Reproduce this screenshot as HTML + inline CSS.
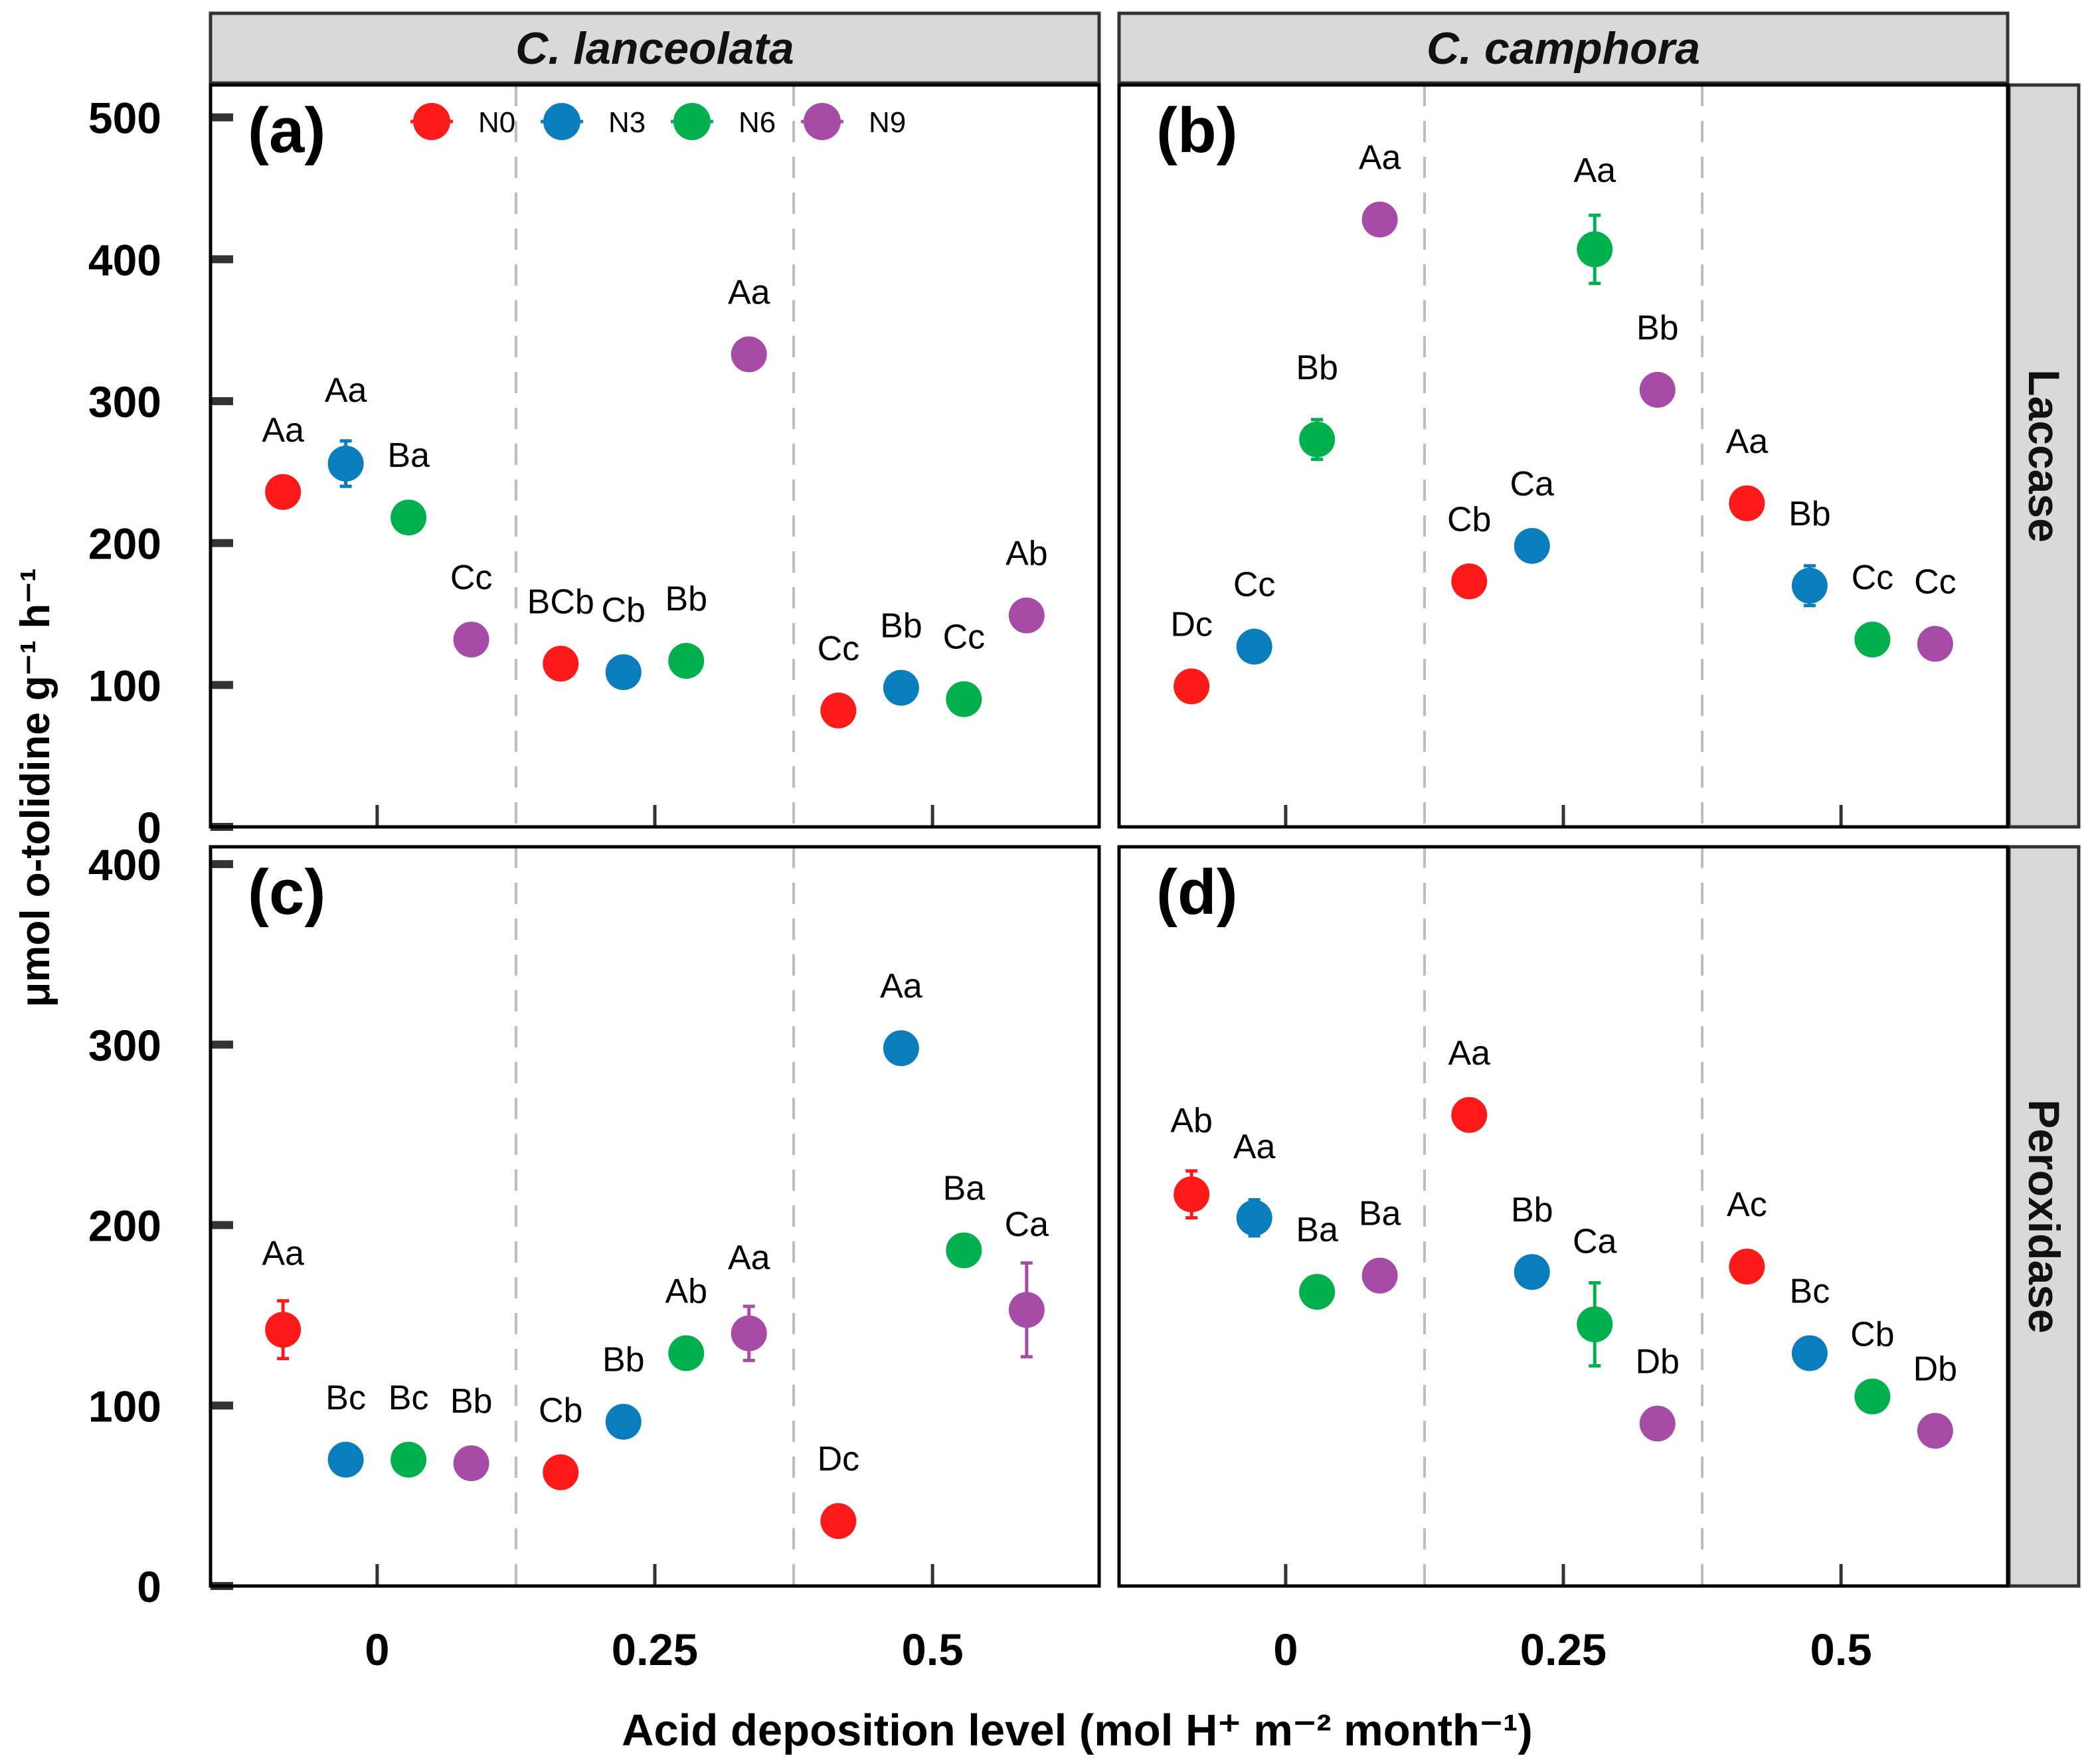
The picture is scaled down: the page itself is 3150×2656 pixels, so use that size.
<!DOCTYPE html>
<html><head><meta charset="utf-8"><style>
html,body{margin:0;padding:0;background:#fff;}
svg{display:block;font-family:"Liberation Sans",Arial,sans-serif;}
</style></head><body>
<svg id="chart" width="3150" height="2656" viewBox="0 0 3150 2656" xmlns="http://www.w3.org/2000/svg"></svg>
<script>
const groups = [0, 0.25, 0.5];
const series = ["N0","N3","N6","N9"];
const colors = ["#ff1a1a","#0a7dbd","#00b04c","#a64ca6"];
// panel a: C. lanceolata Laccase
const aVals = [[236,256,218,132],[115,109,117,333],[82,98,90,149]];
const aErr  = [[0,16,0,0],[0,0,0,0],[0,0,0,0]];
const aLab  = [["Aa","Aa","Ba","Cc"],["BCb","Cb","Bb","Aa"],["Cc","Bb","Cc","Ab"]];
// panel b: C. camphora Laccase
const bVals = [[99,127,273,428],[173,198,407,308],[228,170,132,129]];
const bErr  = [[0,0,14,0],[0,0,24,0],[0,14,0,0]];
const bLab  = [["Dc","Cc","Bb","Aa"],["Cb","Ca","Aa","Bb"],["Aa","Bb","Cc","Cc"]];
// panel c: C. lanceolata Peroxidase
const cVals = [[142,70,70,68],[63,91,129,140],[36,298,186,153]];
const cErr  = [[16,0,0,0],[0,0,0,15],[0,0,0,26]];
const cLab  = [["Aa","Bc","Bc","Bb"],["Cb","Bb","Ab","Aa"],["Dc","Aa","Ba","Ca"]];
// panel d: C. camphora Peroxidase
const dVals = [[217,204,163,172],[261,174,145,90],[177,129,105,86]];
const dErr  = [[13,10,0,0],[0,0,23,0],[0,0,0,0]];
const dLab  = [["Ab","Aa","Ba","Ba"],["Aa","Bb","Ca","Db"],["Ac","Bc","Cb","Db"]];
const topTicks = [0,100,200,300,400,500];
const botTicks = [0,100,200,300,400];
const xTickLabels = ["0","0.25","0.5"];

const svg = document.getElementById('chart');
const NS = "http://www.w3.org/2000/svg";
function mk(tag, attrs, parent, text){
  const e = document.createElementNS(NS, tag);
  for (const k in attrs) e.setAttribute(k, attrs[k]);
  if (text !== undefined) e.textContent = text;
  (parent || svg).appendChild(e);
  return e;
}
const X0 = [317, 1685], PW = 1338;
const xmin = -0.15, xmax = 0.65;
function xs(col, v){ return X0[col] + (v - xmin) / (xmax - xmin) * PW; }
const rows = [{top:128, bot:1245, max:522.8}, {top:1275, bot:2388, max:409.6}];
function ys(row, v){ const r = rows[row]; return r.bot - v / r.max * (r.bot - r.top); }
const offs = [-1.5,-0.5,0.5,1.5], spacing = 0.0565;

const panels = [
  {row:0,col:0,vals:aVals,err:aErr,lab:aLab,tag:"(a)",name:"panel-a"},
  {row:0,col:1,vals:bVals,err:bErr,lab:bLab,tag:"(b)",name:"panel-b"},
  {row:1,col:0,vals:cVals,err:cErr,lab:cLab,tag:"(c)",name:"panel-c"},
  {row:1,col:1,vals:dVals,err:dErr,lab:dLab,tag:"(d)",name:"panel-d"}
];

["C. lanceolata","C. camphora"].forEach((t,i)=>{
  const g = mk('g',{});
  
  
  mk('rect',{x:X0[i],y:20,width:PW,height:105,fill:'#d9d9d9',stroke:'#333','stroke-width':5},g);
  mk('text',{x:X0[i]+PW/2,y:96,'text-anchor':'middle','font-size':68,'font-weight':'bold','font-style':'italic',fill:'#111'},g,t);
});
["Laccase","Peroxidase"].forEach((t,i)=>{
  const r = rows[i];
  const g = mk('g',{});
  
  
  mk('rect',{x:3025,y:r.top,width:105,height:r.bot-r.top,fill:'#d9d9d9',stroke:'#333','stroke-width':5},g);
  const cy=(r.top+r.bot)/2;
  mk('text',{x:3078,y:cy,'text-anchor':'middle','dominant-baseline':'central','font-size':66,'font-weight':'bold',fill:'#111',transform:`rotate(90 3078 ${cy})`},g,t);
});

panels.forEach(p=>{
  const r = rows[p.row];
  const g = mk('g',{});
  
  
  [0.125,0.375].forEach(v=>{
    const l = mk('line',{x1:xs(p.col,v),x2:xs(p.col,v),y1:r.top,y2:r.bot,stroke:'#bdbdbd','stroke-width':4,'stroke-dasharray':'32 22'},g);
    
    
  });
  groups.forEach(v=>{
    const t = mk('line',{x1:xs(p.col,v),x2:xs(p.col,v),y1:r.bot-33,y2:r.bot,stroke:'#333','stroke-width':5},g);
    
    
  });
  if (p.col==0){
    const ticks = p.row==0?topTicks:botTicks;
    ticks.forEach(v=>{
      const t = mk('rect',{x:317,y:ys(p.row,v)-6,width:34,height:12,fill:'#333'},g);
      
      
      const tl = mk('text',{x:243,y:ys(p.row,v)+24,'text-anchor':'end','font-size':66,'font-weight':'bold',fill:'#000'},g,String(v));
      
      
    });
  }
  for (let gi=0; gi<groups.length; gi++){
    for (let si=0; si<series.length; si++){
      const v = p.vals[gi][si], e = p.err[gi][si];
      const cx = xs(p.col, groups[gi] + offs[si]*spacing);
      const cy = ys(p.row, v);
      if (e>0){
        const y1 = ys(p.row, v+e), y2 = ys(p.row, v-e);
        const eb = mk('path',{d:`M${cx},${y1}V${y2}M${cx-9},${y1}H${cx+9}M${cx-9},${y2}H${cx+9}`,stroke:colors[si],'stroke-width':5,fill:'none'},g);
        
        
      }
      const c = mk('circle',{cx:cx,cy:cy,r:27,fill:colors[si]},g);
      
      
      const ep = (e>0)? (ys(p.row,v)-ys(p.row,v+e))*0.5 : 0;
      const lt = mk('text',{x:cx,y:cy-76-ep,'text-anchor':'middle','font-size':52,fill:'#000'},g,p.lab[gi][si]);
      
      
    }
  }
  const tg = mk('text',{x:X0[p.col]+56,y:r.top+101,'font-size':96,'font-weight':'bold',fill:'#000'},g,p.tag);
  
  
  mk('rect',{x:X0[p.col],y:r.top,width:PW,height:r.bot-r.top,fill:'none',stroke:'#000','stroke-width':5},g);
});

[0,1].forEach(col=>{
  groups.forEach((v,i)=>{
    const t = mk('text',{x:xs(col,v),y:2507,'text-anchor':'middle','font-size':67,'font-weight':'bold',fill:'#000'},svg,xTickLabels[i]);
    
    
  });
});

const lg = mk('g',{});


series.forEach((s,i)=>{
  const cx = 650 + i*196;
  const e = mk('g',{},lg);
  
  
  mk('line',{x1:cx-32,x2:cx+32,y1:183,y2:183,stroke:colors[i],'stroke-width':5},e);
  mk('circle',{cx:cx,cy:183,r:28,fill:colors[i]},e);
  mk('text',{x:cx+70,y:199,'font-size':44,fill:'#000'},e,s);
});

const yt = mk('text',{x:74,y:1186,'text-anchor':'middle','font-size':62,'font-weight':'bold',fill:'#000',transform:'rotate(-90 74 1186)'},svg,'μmol o-tolidine g⁻¹ h⁻¹');


const xt = mk('text',{x:1622,y:2628,'text-anchor':'middle','font-size':67,'font-weight':'bold',fill:'#000'},svg,'Acid deposition level (mol H⁺ m⁻² month⁻¹)');


</script>
</body></html>
